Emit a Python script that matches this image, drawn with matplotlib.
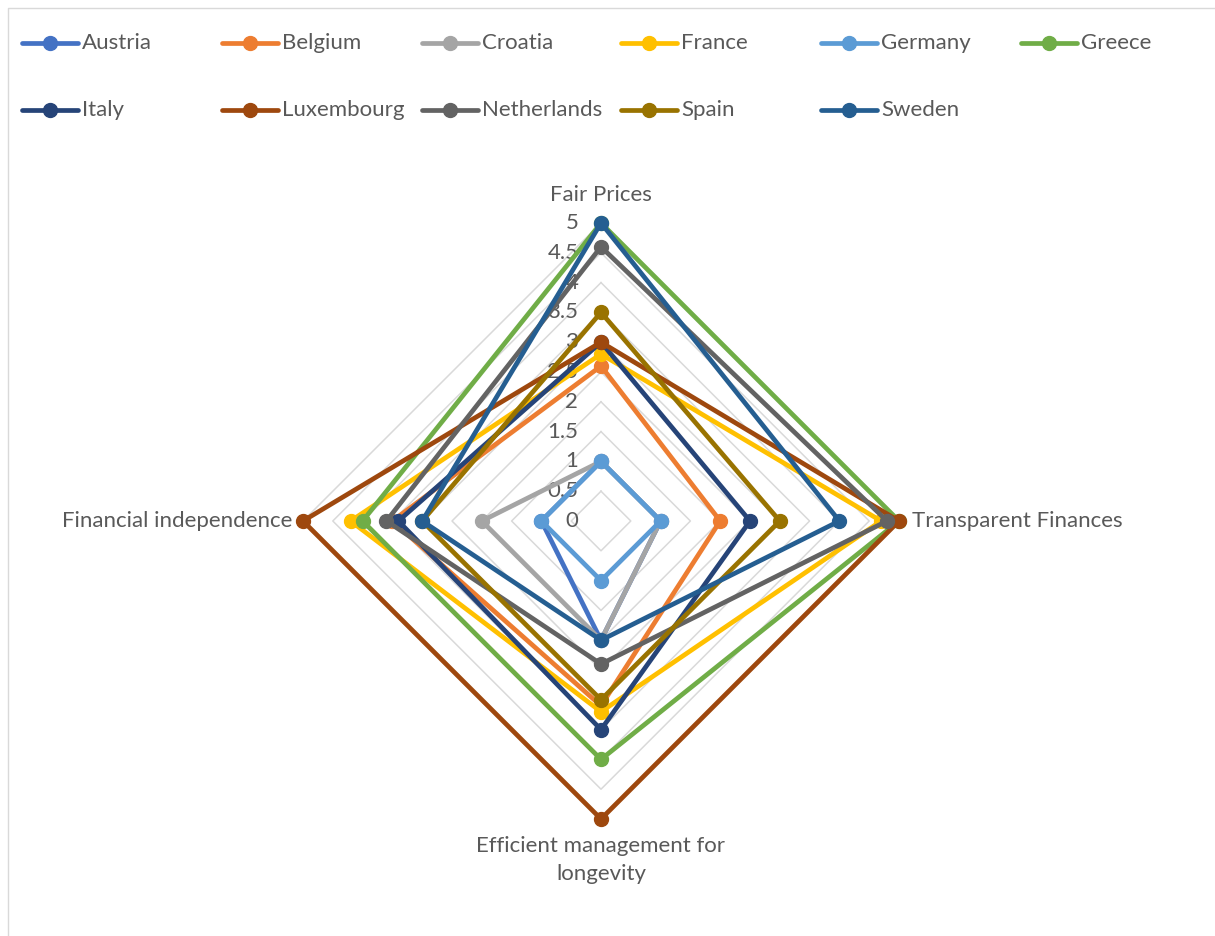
import matplotlib.pyplot as plt
import numpy as np

# radar chart: scores per country on four criteria
categories = ['Fair Prices', 'Transparent Finances',
              'Efficient management for\nlongevity', 'Financial independence']
countries = ['Austria', 'Belgium', 'Croatia', 'France', 'Germany', 'Greece',
             'Italy', 'Luxembourg', 'Netherlands', 'Spain', 'Sweden']

# order: Fair Prices, Transparent Finances, Efficient management, Financial independence
austria = [1, 1, 2, 1]
belgium = [2.6, 2, 3.1, 3.5]
croatia = [1, 1, 2, 2]
france = [2.8, 4.7, 3.2, 4.2]
germany = [1, 1, 1, 1]
greece = [5, 5, 4, 4]
italy = [3, 2.5, 3.5, 3.4]
luxembourg = [3, 5, 5, 5]
netherlands = [4.6, 4.8, 2.4, 3.6]
spain = [3.5, 3, 3, 3]
sweden = [5, 4, 2, 3]
scores = [austria, belgium, croatia, france, germany, greece,
          italy, luxembourg, netherlands, spain, sweden]

colors = ['#4472C4', '#ED7D31', '#A5A5A5', '#FFC000', '#5B9BD5', '#70AD47',
          '#264478', '#9E480E', '#636363', '#997300', '#255E91']

ticks = [0, 0.5, 1, 1.5, 2, 2.5, 3, 3.5, 4, 4.5, 5]
tick_labels = ['0', '0.5', '1', '1.5', '2', '2.5', '3', '3.5', '4', '4.5', '5']

plt.rcParams['font.family'] = ['Lato', 'DejaVu Sans']
text_color = '#595959'
fs = 16

W, H = 1215, 936
cx, cy, unit = 601, 521, 59.6

fig = plt.figure(figsize=(W / 100, H / 100), dpi=100)
ax = fig.add_axes([0, 0, 1, 1])
ax.set_xlim(-cx / unit, (W - cx) / unit)
ax.set_ylim(-(H - cy) / unit, cy / unit)
ax.axis('off')


def px(x, y):
    # pixel position in the picture -> data coords of the axes
    return (x - cx) / unit, (cy - y) / unit


angles = np.pi / 2 - np.arange(4) * np.pi / 2


def to_xy(vals):
    v = np.append(np.asarray(vals, float), vals[0])
    a = np.append(angles, angles[0])
    return v * np.cos(a), v * np.sin(a)


# chart border (only top / left visible)
bx, by = zip(px(8, H + 5), px(8, 8), px(W + 5, 8))
ax.plot(bx, by, color='#D9D9D9', lw=1, clip_on=False)

# diamond gridlines
for t in ticks[1:]:
    gx, gy = to_xy([t] * 4)
    ax.plot(gx, gy, color='#D9D9D9', lw=1.1, zorder=1)

for t, lab in zip(ticks, tick_labels):
    ax.text(-0.38, t, lab, ha='right', va='center', fontsize=fs,
            color=text_color, zorder=2)

# category labels
ax.text(0, 5.47, categories[0], ha='center', va='center', fontsize=fs, color=text_color)
ax.text(5.22, 0, categories[1], ha='left', va='center', fontsize=fs, color=text_color)
ax.text(0, -5.28, categories[2], ha='center', va='top', fontsize=fs,
        color=text_color, linespacing=1.5, multialignment='center')
ax.text(-5.18, 0, categories[3], ha='right', va='center', fontsize=fs, color=text_color)

for i, (vals, c) in enumerate(zip(scores, colors)):
    x, y = to_xy(vals)
    ax.plot(x, y, color=c, lw=3.4, zorder=3 + i, solid_joinstyle='miter')
    ax.plot(x[:-1], y[:-1], 'o', color=c, ms=10, zorder=3 + i)

# legend, two rows of equal width columns
for i, (name, c) in enumerate(zip(countries, colors)):
    x0 = 22 + (i % 6) * 199.8
    y0 = 43 + (i // 6) * 67
    lx, ly = zip(px(x0, y0), px(x0 + 56, y0))
    ax.plot(lx, ly, color=c, lw=3.4, solid_capstyle='round', clip_on=False)
    mx, my = px(x0 + 28, y0)
    ax.plot([mx], [my], 'o', color=c, ms=10, clip_on=False)
    tx, ty = px(x0 + 60, y0)
    ax.text(tx, ty, name, ha='left', va='center', fontsize=fs, color=text_color)

fig.savefig('out.png', dpi=100)
